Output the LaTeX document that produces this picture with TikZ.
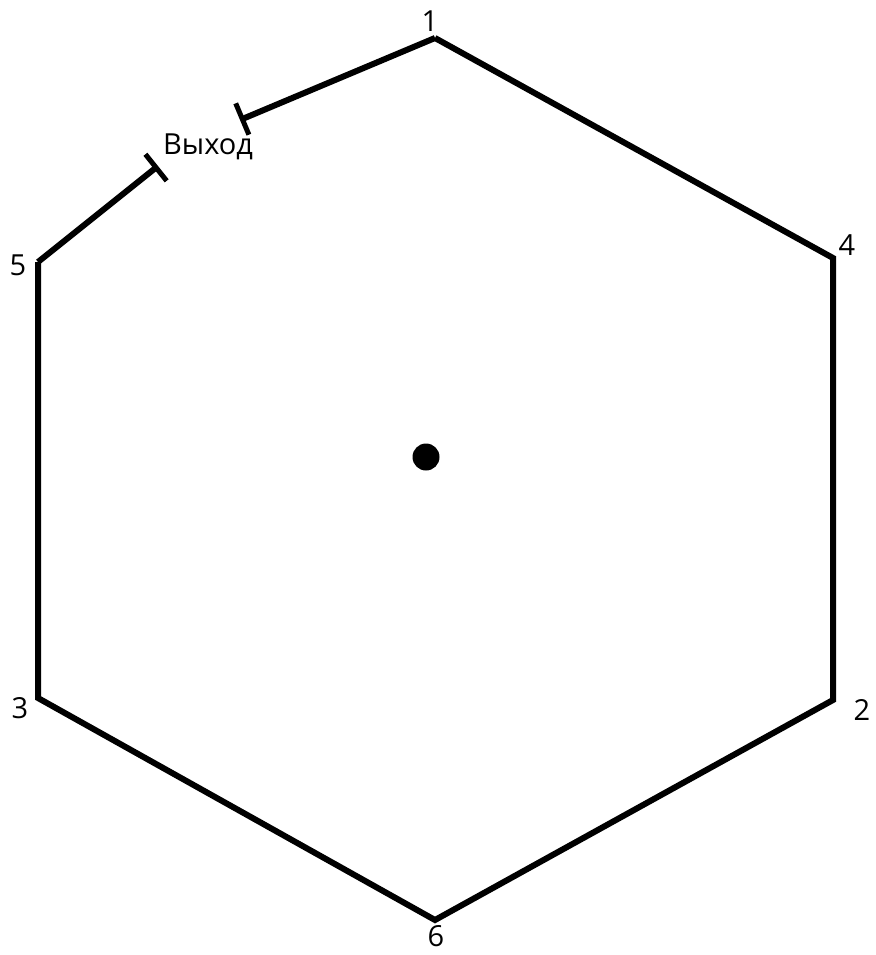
\documentclass[tikz,border=0pt]{standalone}
\usepackage{fontspec}
\setmainfont{Open Sans}
\usepackage{tikz}
\usetikzlibrary{arrows.meta, positioning, calc}

\begin{document}
\begin{tikzpicture}[x=1pt, y=-1pt,
			wall/.style={line width=6pt, line join=miter, black},
			exitwall/.style={line width=6pt, -{Bar[width=34pt, line width=5pt]}},
			vlabel/.style={font=\fontsize{29}{31}\selectfont, inner sep=0pt},
			centre/.style={circle, fill=black, inner sep=0pt, minimum size=27pt}
			]
			
			% Frame
			\useasboundingbox (0,0) rectangle (875,955);
			
			% 1. Vertices of the hexagon
			\coordinate (v1) at (435,38);
			\coordinate (v4) at (833,258);
			\coordinate (v2) at (833,700);
			\coordinate (v6) at (435,920);
			\coordinate (v3) at (38,698);
			\coordinate (v5) at (38,262);
			
			% Ends of the exit gap
			\coordinate (e1) at (240,120);
			\coordinate (e5) at (158,166);
			
			% 2. Walls
			\draw[wall] (v1) -- (v4) -- (v2) -- (v6) -- (v3) -- (v5);
			\draw[exitwall] (v1) -- (e1);
			\draw[exitwall] (v5) -- (e5);
			
			% 3. Labels
			\node[vlabel] (l1) at (430,21) {1};
			\node[vlabel] (l4) at (847,245) {4};
			\node[vlabel] (l2) at (862,710) {2};
			\node[vlabel] (l6) at (436,936) {6};
			\node[vlabel] (l3) at (20,708) {3};
			\node[vlabel] (l5) at (18,265) {5};
			\node[vlabel, anchor=west] (exit) at (163,147) {Выход};
			
			% 4. Centre point
			\node[centre] (c) at (426,457) {};
			
		\end{tikzpicture}
\end{document}
